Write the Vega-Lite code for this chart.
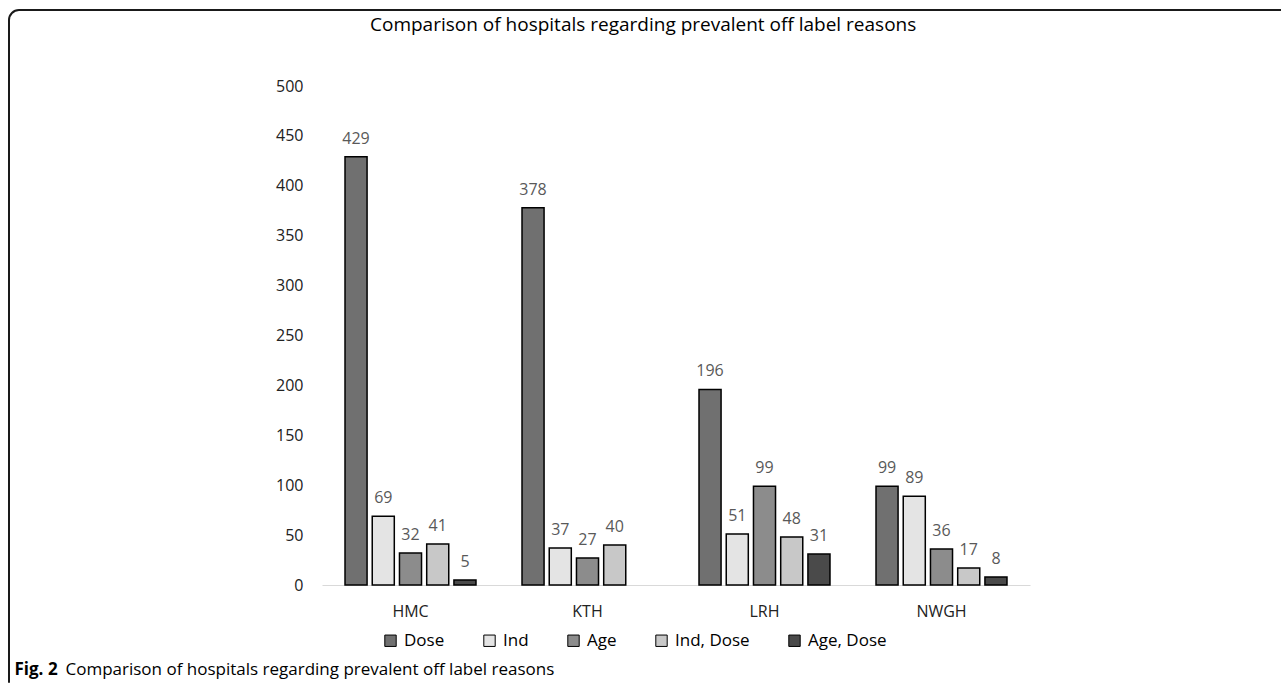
{
  "$schema": "https://vega.github.io/schema/vega-lite/v6.json",
  "autosize": "none",
  "padding": {"left": 9, "top": 10, "right": -10, "bottom": 0},
  "width": 1282,
  "height": 683,
  "background": "white",
  "config": {
    "font": "Open Sans",
    "view": {"stroke": "#1a1a1a", "strokeWidth": 2, "cornerRadius": 10, "fill": "white", "strokeDash": [1278, 1956, 700]}
  },
  "title": {
    "text": "Comparison of hospitals regarding prevalent off label reasons",
    "anchor": "start",
    "frame": "group",
    "offset": -14,
    "dx": 361,
    "dy": 20,
    "baseline": "middle",
    "fontSize": 19,
    "fontWeight": "normal",
    "font": "Open Sans",
    "color": "#000000"
  },
  "data": {
    "values": [
      {"hospital": "HMC", "reason": "Dose", "count": 429},
      {"hospital": "HMC", "reason": "Ind", "count": 69},
      {"hospital": "HMC", "reason": "Age", "count": 32},
      {"hospital": "HMC", "reason": "Ind, Dose", "count": 41},
      {"hospital": "HMC", "reason": "Age, Dose", "count": 5},
      {"hospital": "KTH", "reason": "Dose", "count": 378},
      {"hospital": "KTH", "reason": "Ind", "count": 37},
      {"hospital": "KTH", "reason": "Age", "count": 27},
      {"hospital": "KTH", "reason": "Ind, Dose", "count": 40},
      {"hospital": "LRH", "reason": "Dose", "count": 196},
      {"hospital": "LRH", "reason": "Ind", "count": 51},
      {"hospital": "LRH", "reason": "Age", "count": 99},
      {"hospital": "LRH", "reason": "Ind, Dose", "count": 48},
      {"hospital": "LRH", "reason": "Age, Dose", "count": 31},
      {"hospital": "NWGH", "reason": "Dose", "count": 99},
      {"hospital": "NWGH", "reason": "Ind", "count": 89},
      {"hospital": "NWGH", "reason": "Age", "count": 36},
      {"hospital": "NWGH", "reason": "Ind, Dose", "count": 17},
      {"hospital": "NWGH", "reason": "Age, Dose", "count": 8}
    ]
  },
  "encoding": {
    "x": {
      "field": "hospital",
      "type": "nominal",
      "sort": ["HMC", "KTH", "LRH", "NWGH"],
      "scale": {"range": [313, 1021], "paddingInner": 0.26, "paddingOuter": 0.13},
      "axis": {
        "orient": "bottom",
        "offset": -108,
        "domainColor": "#d9d9d9",
        "domainWidth": 1,
        "ticks": false,
        "grid": false,
        "labelAngle": 0,
        "labelPadding": 18,
        "labelFontSize": 16,
        "labelColor": "#222222",
        "title": "Comparison of hospitals regarding prevalent off label reasons",
        "titleX": 56,
        "titleY": 84,
        "titleAlign": "left",
        "titleBaseline": "middle",
        "titleFontWeight": "normal",
        "titleFontSize": 17,
        "titleColor": "#000000"
      }
    },
    "xOffset": {
      "field": "reason",
      "type": "nominal",
      "scale": {"domain": ["Dose", "Ind", "Age", "Ind, Dose", "Age, Dose"], "paddingInner": 0.19, "paddingOuter": 0}
    },
    "y": {
      "field": "count",
      "type": "quantitative",
      "scale": {"domain": [0, 500], "range": [575, 76], "nice": false, "zero": true},
      "axis": {
        "values": [0, 50, 100, 150, 200, 250, 300, 350, 400, 450, 500],
        "grid": false,
        "domain": false,
        "ticks": false,
        "offset": -294,
        "labelPadding": 0,
        "labelFontSize": 16,
        "labelColor": "#222222",
        "title": "Fig. 2",
        "titleAngle": 0,
        "titleX": -289,
        "titleY": 659,
        "titleAlign": "left",
        "titleBaseline": "middle",
        "titleFontWeight": "bold",
        "titleFontSize": 17,
        "titleColor": "#000000"
      }
    }
  },
  "layer": [
    {
      "mark": {"type": "bar", "stroke": "#000000", "strokeWidth": 1.5},
      "encoding": {
        "fill": {
          "field": "reason",
          "type": "nominal",
          "scale": {
            "domain": ["Dose", "Ind", "Age", "Ind, Dose", "Age, Dose"],
            "range": ["#707070", "#e4e4e4", "#8c8c8c", "#c8c8c8", "#4a4a4a"]
          },
          "legend": {
            "orient": "none",
            "legendX": 373,
            "legendY": 622,
            "direction": "horizontal",
            "columns": 5,
            "title": null,
            "symbolType": "square",
            "symbolSize": 130,
            "symbolStrokeColor": "#000000",
            "symbolStrokeWidth": 1,
            "labelFontSize": 17,
            "labelColor": "#000000",
            "labelOffset": 5,
            "columnPadding": 36
          }
        }
      }
    },
    {
      "mark": {"type": "text", "dy": -18, "fontSize": 16, "color": "#595959", "font": "Open Sans"},
      "encoding": {"text": {"field": "count", "type": "quantitative"}}
    }
  ]
}
